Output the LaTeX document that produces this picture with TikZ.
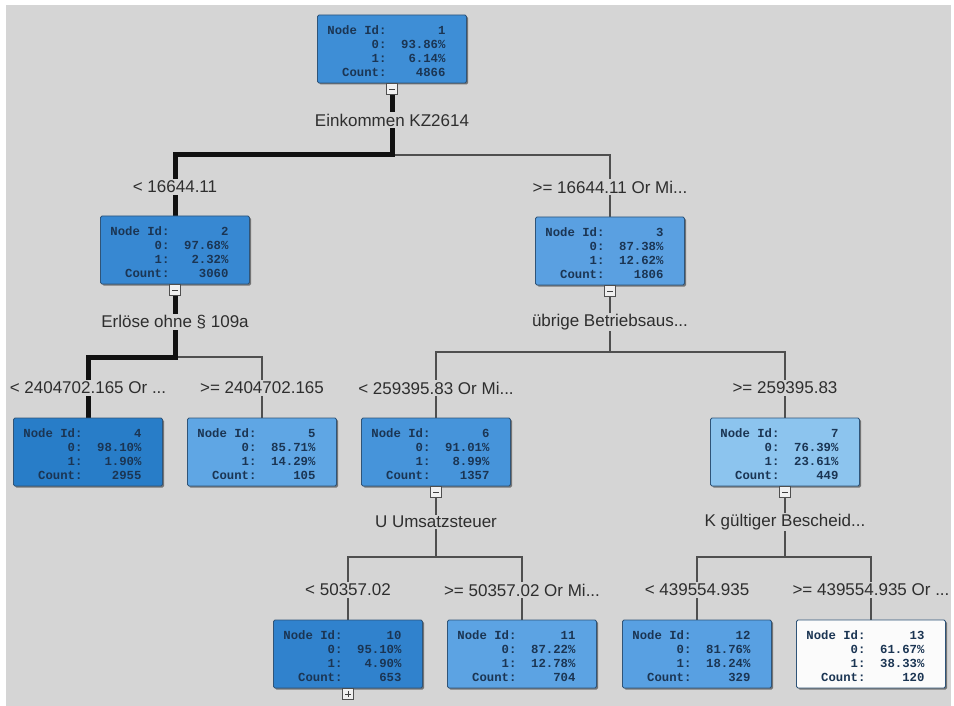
\documentclass[tikz,border=0pt]{standalone}
\usepackage{fontspec}
\setmainfont{Liberation Sans}
\newfontfamily\boxfont{Liberation Mono}
\usetikzlibrary{shadows}
\definecolor{bggray}{HTML}{D5D5D5}
\definecolor{labtext}{HTML}{2E2E2E}
\definecolor{boxtext}{HTML}{1B3553}
\definecolor{boxedge}{HTML}{2F5478}
\definecolor{thinline}{HTML}{4F4F4F}
\definecolor{thickline}{HTML}{111111}
\definecolor{cA}{HTML}{3E8ED6}
\definecolor{cB}{HTML}{3788D2}
\definecolor{cC}{HTML}{5AA0E1}
\definecolor{cD}{HTML}{287DC8}
\definecolor{cE}{HTML}{5FA6E4}
\definecolor{cF}{HTML}{4694DA}
\definecolor{cG}{HTML}{8CC4EE}
\definecolor{cJ}{HTML}{3082CD}
\definecolor{cK}{HTML}{5CA3E3}
\definecolor{cL}{HTML}{58A0E2}
\definecolor{cM}{HTML}{FBFBFB}
\pgfdeclarelayer{bgl}
\pgfdeclarelayer{edgel}
\pgfsetlayers{bgl,edgel,main}
\newcommand{\treerow}[2]{\makebox[59pt][r]{#1}\makebox[59pt][r]{#2}\makebox[11pt]{}}
\newcommand{\treerows}[4]{\rule{0pt}{13pt}\treerow{Node Id:}{#1}\\\treerow{0:}{#2}\\\treerow{1:}{#3}\\\treerow{Count:}{#4}}
\begin{document}
\begin{tikzpicture}[x=1pt,y=-1pt,
  tbox/.style={draw=boxedge, line width=0.8pt, rounded corners=1.5pt,
    minimum width=149pt, minimum height=68pt, inner sep=0pt, align=left,
    font=\boxfont\bfseries\fontsize{12.3}{14}\selectfont, text=boxtext,
    drop shadow={shadow xshift=1.5pt, shadow yshift=-1.5pt, fill=black, opacity=0.45}},
  lab/.style={fill=bggray, inner sep=1.5pt, text=labtext, font=\fontsize{17}{20}\selectfont},
  collapse/.style={draw=thinline, fill=white!94!black, line width=0.8pt, minimum size=11pt,
    inner sep=0pt, anchor=north,
    path picture={\draw[line width=0.9pt, black!75]
      ([xshift=-3pt]path picture bounding box.center) -- ([xshift=3pt]path picture bounding box.center);}},
  expand/.style={collapse,
    path picture={\draw[line width=0.9pt, black!75]
      ([xshift=-3pt]path picture bounding box.center) -- ([xshift=3pt]path picture bounding box.center)
      ([yshift=-3pt]path picture bounding box.center) -- ([yshift=3pt]path picture bounding box.center);}},
  thickedge/.style={line width=5pt, draw=thickline, line join=miter},
  thinedge/.style={line width=1.5pt, draw=thinline, line join=miter}]
\useasboundingbox (0,0) rectangle (954,706);
\begin{pgfonlayer}{bgl}
  \fill[white] (0,0) rectangle (954,706);
  \fill[bggray] (6,5) rectangle (951,706);
\end{pgfonlayer}

% tree nodes
\node[tbox, fill=cA] (n1) at (392,49) {\treerows{1}{93.86\%}{6.14\%}{4866}};
\node[tbox, fill=cB] (n2) at (175,250) {\treerows{2}{97.68\%}{2.32\%}{3060}};
\node[tbox, fill=cC] (n3) at (610,251) {\treerows{3}{87.38\%}{12.62\%}{1806}};
\node[tbox, fill=cD] (n4) at (88,452) {\treerows{4}{98.10\%}{1.90\%}{2955}};
\node[tbox, fill=cE] (n5) at (262,452) {\treerows{5}{85.71\%}{14.29\%}{105}};
\node[tbox, fill=cF] (n6) at (436,452) {\treerows{6}{91.01\%}{8.99\%}{1357}};
\node[tbox, fill=cG] (n7) at (785,452) {\treerows{7}{76.39\%}{23.61\%}{449}};
\node[tbox, fill=cJ] (n10) at (348,654) {\treerows{10}{95.10\%}{4.90\%}{653}};
\node[tbox, fill=cK] (n11) at (522,654) {\treerows{11}{87.22\%}{12.78\%}{704}};
\node[tbox, fill=cL] (n12) at (697,654) {\treerows{12}{81.76\%}{18.24\%}{329}};
\node[tbox, fill=cM] (n13) at (871,654) {\treerows{13}{61.67\%}{38.33\%}{120}};

% collapse / expand buttons
\node[collapse] (c1) at (n1.south) {};
\node[collapse] (c2) at (n2.south) {};
\node[collapse] (c3) at (n3.south) {};
\node[collapse] (c6) at (n6.south) {};
\node[collapse] (c7) at (n7.south) {};
\node[expand] (c10) at (n10.south) {};

% split labels
\node[lab] (s1) at (392,120) {Einkommen KZ2614};
\node[lab] (s2) at (175,322) {Erlöse ohne § 109a};
\node[lab] (s3) at (610,322) {übrige Betriebsaus...};
\node[lab] (s6) at (436,522) {U Umsatzsteuer};
\node[lab] (s7) at (785,522) {K gültiger Bescheid...};

% edge labels
\node[lab] (l2) at (175,187) {< 16644.11};
\node[lab] (l3) at (610,187) {>= 16644.11 Or Mi...};
\node[lab] (l4) at (88,388) {< 2404702.165 Or ...};
\node[lab] (l5) at (262,388) {>= 2404702.165};
\node[lab] (l6) at (436,388) {< 259395.83 Or Mi...};
\node[lab] (l7) at (785,388) {>= 259395.83};
\node[lab] (l10) at (348,590) {< 50357.02};
\node[lab] (l11) at (522,590) {>= 50357.02 Or Mi...};
\node[lab] (l12) at (697,590) {< 439554.935};
\node[lab] (l13) at (871,590) {>= 439554.935 Or ...};

% junctions
\coordinate (j1) at (392,155);
\coordinate (j1l) at (175,155);
\coordinate (j1r) at (610,155);
\coordinate (j2) at (175,357);
\coordinate (j2l) at (88,357);
\coordinate (j2r) at (262,357);
\coordinate (j3) at (610,352);
\coordinate (j3l) at (436,352);
\coordinate (j3r) at (785,352);
\coordinate (j6) at (436,557);
\coordinate (j6l) at (348,557);
\coordinate (j6r) at (522,557);
\coordinate (j7) at (785,557);
\coordinate (j7l) at (697,557);
\coordinate (j7r) at (871,557);

\begin{pgfonlayer}{edgel}
  \draw[thinedge] (j1) -- (j1r) -- (n3.north);
  \draw[thickedge] (c1.south) -- (j1) -- (j1l) -- (n2.north);
  \draw[thinedge] (j2) -- (j2r) -- (n5.north);
  \draw[thickedge] (c2.south) -- (j2) -- (j2l) -- (n4.north);
  \draw[thinedge] (c3.south) -- (j3);
  \draw[thinedge] (n6.north) -- (j3l) -- (j3r) -- (n7.north);
  \draw[thinedge] (c6.south) -- (j6);
  \draw[thinedge] (n10.north) -- (j6l) -- (j6r) -- (n11.north);
  \draw[thinedge] (c7.south) -- (j7);
  \draw[thinedge] (n12.north) -- (j7l) -- (j7r) -- (n13.north);
\end{pgfonlayer}
\end{tikzpicture}
\end{document}
